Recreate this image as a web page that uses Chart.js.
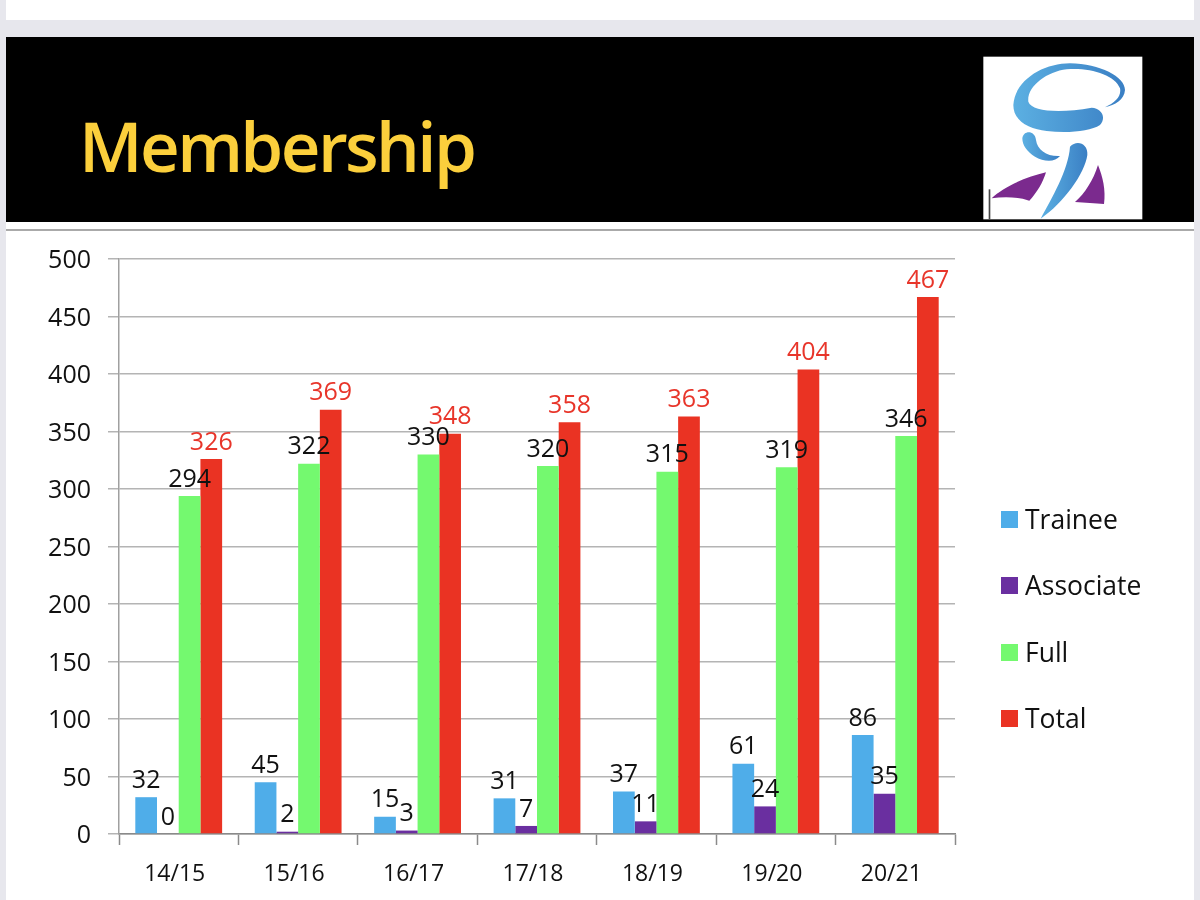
<!DOCTYPE html>
<html>
<head>
<meta charset="utf-8">
<title>Membership</title>
<script src="https://cdn.jsdelivr.net/npm/chart.js@4"></script>
<style>
  html, body { margin: 0; padding: 0; }
  body { width: 1200px; height: 900px; background: #e7e7ed; position: relative; overflow: hidden; font-family: "Open Sans", sans-serif; }
  #topslide { position: absolute; left: 6px; top: 0; width: 1188px; height: 20px; background: #fff; }
  #slide { position: absolute; left: 6px; top: 37px; width: 1188px; height: 863px; background: #fff; }
  #header { position: absolute; left: 6px; top: 37px; width: 1188px; height: 185px; background: #000; }
  #rule { position: absolute; left: 6px; top: 229px; width: 1188px; height: 2px; background: #aaa; }
  #title { position: absolute; left: 79px; top: 98px; font-size: 69px; line-height: 94px; font-weight: 600; letter-spacing: -2.6px; color: #fbcf3c; }
  #logo { position: absolute; left: 960px; top: 30px; }
  #chartwrap { position: absolute; left: 0; top: 240px; width: 1200px; height: 660px; }
  #legend { position: absolute; left: 1001px; top: 486px; }
  .item { position: absolute; left: 0; width: 190px; height: 66px; }
  .swatch { position: absolute; left: 0; top: 25px; width: 17px; height: 17px; }
  .name { position: absolute; left: 24px; top: 15px; font-size: 26.5px; line-height: 36px; color: #111; white-space: nowrap; }
</style>
</head>
<body>
<div id="topslide"></div>
<div id="slide"></div>
<div id="header"></div>
<div id="rule"></div>
<div id="title">Membership</div>

<svg id="logo" width="240" height="210" viewBox="0 0 720 630">
  <defs>
    <linearGradient id="blue" x1="0" x2="1" y1="0" y2="0">
      <stop offset="0" stop-color="#5cb0e2"/>
      <stop offset="1" stop-color="#3a7fc4"/>
    </linearGradient>
  </defs>
  <rect x="70" y="80" width="477" height="488" fill="#fff"/>
  <path d="M160 225 C165 150 250 100 330 100 C420 102 495 140 495 180 C493 210 465 225 435 232 C465 218 485 200 480 175 C465 135 390 112 320 118 C260 125 200 170 205 215 C215 245 300 250 395 233 C425 235 440 262 420 285 C390 305 320 310 260 303 C210 298 160 275 160 225 Z" fill="url(#blue)"/>
  <path d="M187 325 C190 300 225 300 228 330 C232 360 260 380 300 378 C285 398 250 395 225 380 C200 365 187 345 187 325 Z" fill="url(#blue)"/>
  <path d="M330 350 C350 328 385 340 382 375 C375 430 310 520 242 566 C275 505 325 420 330 350 Z" fill="url(#blue)"/>
  <path d="M95 505 C130 470 200 440 258 427 C250 455 230 490 208 512 C170 500 130 500 95 505 Z" fill="#7b2a8e"/>
  <path d="M414 405 C428 440 438 480 432 522 C405 520 375 518 345 516 C375 490 400 450 414 405 Z" fill="#7b2a8e"/>
  <rect x="86" y="478" width="5" height="90" fill="#444"/>
</svg>

<div id="chartwrap"><canvas id="memberChart" width="1200" height="660"></canvas></div>
<div id="legend"></div>

<script>
const years = ['14/15', '15/16', '16/17', '17/18', '18/19', '19/20', '20/21'];
const trainee = [32, 45, 15, 31, 37, 61, 86];
const associate = [0, 2, 3, 7, 11, 24, 35];
const full = [294, 322, 330, 320, 315, 319, 346];
const total = [326, 369, 348, 358, 363, 404, 467];

const fontName = '"Open Sans", sans-serif';

// value labels go on top of every bar, the library has no built in option for them
const valueLabels = {
    id: 'valueLabels',
    afterDatasetsDraw(chart) {
        const ctx = chart.ctx;
        ctx.save();
        ctx.font = '25px ' + fontName;
        ctx.textAlign = 'center';
        ctx.textBaseline = 'bottom';
        chart.data.datasets.forEach((ds, i) => {
            ctx.fillStyle = ds.label === 'Total' ? '#e8352a' : '#111';
            chart.getDatasetMeta(i).data.forEach((bar, j) => {
                ctx.fillText(ds.data[j], bar.x, bar.y - 4);
            });
        });
        ctx.restore();
    }
};

const data = {
    labels: years,
    datasets: [
        { label: 'Trainee', data: trainee, backgroundColor: '#4fade9' },
        { label: 'Associate', data: associate, backgroundColor: '#6a2fa0' },
        { label: 'Full', data: full, backgroundColor: '#74f96f' },
        { label: 'Total', data: total, backgroundColor: '#ea3323' }
    ]
};

const config = {
    type: 'bar',
    data: data,
    plugins: [valueLabels],
    options: {
        responsive: false,
        animation: false,
        categoryPercentage: 0.727,
        barPercentage: 1,
        layout: {
            autoPadding: false,
            padding: { left: 0, top: 19, right: 245, bottom: 0 }
        },
        scales: {
            x: {
                afterFit(scale) { scale.height = 66; scale.paddingLeft = 0; scale.paddingRight = 0; },
                border: { color: '#8a8a8a', width: 1.5 },
                grid: { drawOnChartArea: false, tickLength: 11, tickColor: '#8a8a8a', tickWidth: 1.5 },
                ticks: { color: '#111', font: { family: fontName, size: 23 }, padding: 16, labelOffset: -4, maxRotation: 0 }
            },
            y: {
                min: 0,
                max: 500,
                afterFit(scale) { scale.width = 119; scale.paddingTop = 0; scale.paddingBottom = 0; },
                border: { color: '#a0a0a0', width: 1.5 },
                grid: { color: '#b4b4b4', lineWidth: 1.5, tickLength: 11 },
                ticks: { stepSize: 50, color: '#111', font: { family: fontName, size: 25 }, padding: 17, labelOffset: 2 }
            }
        },
        plugins: {
            legend: { display: false },
            tooltip: { enabled: false }
        }
    }
};

const ctx = document.getElementById('memberChart').getContext('2d');
const chart = new Chart(ctx, config);

// html legend, built from the datasets
const legendBox = document.getElementById('legend');
chart.data.datasets.forEach((ds, i) => {
    const item = document.createElement('div');
    item.className = 'item';
    item.style.top = (i * 66.4) + 'px';
    const swatch = document.createElement('div');
    swatch.className = 'swatch';
    swatch.style.background = ds.backgroundColor;
    const name = document.createElement('div');
    name.className = 'name';
    name.textContent = ds.label;
    item.appendChild(swatch);
    item.appendChild(name);
    legendBox.appendChild(item);
});
</script>
</body>
</html>
